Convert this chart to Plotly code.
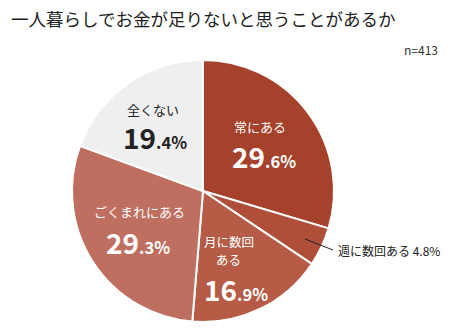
import math
import plotly.graph_objects as go

# Survey: "Do you ever feel short of money living alone?" (n=413)
categories = ["常にある", "週に数回ある", "月に数回ある", "ごくまれにある", "全くない"]
shares = [29.6, 4.8, 16.9, 29.3, 19.4]
slice_colors = ["#A6412B", "#AF4E39", "#B65B46", "#BF6F5F", "#EFEFEF"]
title_text = "一人暮らしでお金が足りないと思うことがあるか"
sample_note = "n=413"

W, H = 450, 330
FONT = "Noto Sans CJK JP"

# pie geometry in pixels
cx, cy, R = 203, 191, 131


def px(x):
    return x / W


def py(y):
    return 1 - y / H


fig = go.Figure(
    go.Pie(
        labels=categories,
        values=shares,
        sort=False,
        direction="clockwise",
        rotation=0,
        marker=dict(colors=slice_colors, line=dict(color="white", width=2)),
        textinfo="none",
        hoverinfo="label+percent",
        showlegend=False,
        domain=dict(x=[px(cx - R), px(cx + R)], y=[py(cy + R), py(cy - R)]),
    )
)


def pct_text(v, big, small):
    whole, dec = f"{v:.1f}".split(".")
    return (f"<b><span style='font-size:{big}px'>{whole}</span>"
            f"<span style='font-size:{small}px'>.{dec}%</span></b>")


# in-slice labels: (index, name lines with positions, value position, colour)
inside = [
    (0, [("常にある", 260, 126, 13)], (264, 156), "white"),
    (2, [("月に数回", 229, 241, 12.5), ("ある", 229, 259.5, 12.5)], (236, 289), "white"),
    (3, [("ごくまれにある", 139, 211, 13)], (138, 242), "white"),
    (4, [("全くない", 153, 110, 13)], (155, 137), "#222222"),
]

annotations = []
for i, lines, (vx, vy), col in inside:
    for name, nx, ny, fs in lines:
        annotations.append(dict(
            x=px(nx), y=py(ny), xref="paper", yref="paper", text=name,
            showarrow=False, xanchor="center", yanchor="middle",
            font=dict(family=FONT, size=fs, color=col),
        ))
    annotations.append(dict(
        x=px(vx), y=py(vy), xref="paper", yref="paper",
        text=pct_text(shares[i], 28, 16.5),
        showarrow=False, xanchor="center", yanchor="middle",
        font=dict(family=FONT, size=28, color=col),
    ))

# outside label for the thin slice, with a leader line from its middle
start = sum(shares[:1]) / sum(shares) * 360
mid = math.radians(start + shares[1] / sum(shares) * 360 / 2)
lx0 = cx + 0.86 * R * math.sin(mid)
ly0 = cy - 0.86 * R * math.cos(mid)
lx1, ly1 = 333, 250
shapes = [dict(type="line", xref="paper", yref="paper",
               x0=px(lx0), y0=py(ly0), x1=px(lx1), y1=py(ly1),
               line=dict(color="#222222", width=1))]
annotations.append(dict(
    x=px(336), y=py(250), xref="paper", yref="paper",
    text=f"{categories[1]} {shares[1]}%", showarrow=False,
    xanchor="left", yanchor="middle",
    font=dict(family=FONT, size=12, color="#222222"),
))

# title and sample size
annotations.append(dict(
    x=px(9), y=py(18), xref="paper", yref="paper", text=title_text,
    showarrow=False, xanchor="left", yanchor="middle",
    font=dict(family=FONT, size=17.5, color="#1E1E1E"),
))
annotations.append(dict(
    x=px(440), y=py(50), xref="paper", yref="paper", text=sample_note,
    showarrow=False, xanchor="right", yanchor="middle",
    font=dict(family=FONT, size=12, color="#333333"),
))

fig.update_layout(
    width=W, height=H,
    margin=dict(l=0, r=0, t=0, b=0),
    paper_bgcolor="white", plot_bgcolor="white",
    annotations=annotations, shapes=shapes,
)

fig.write_html("out.html")
